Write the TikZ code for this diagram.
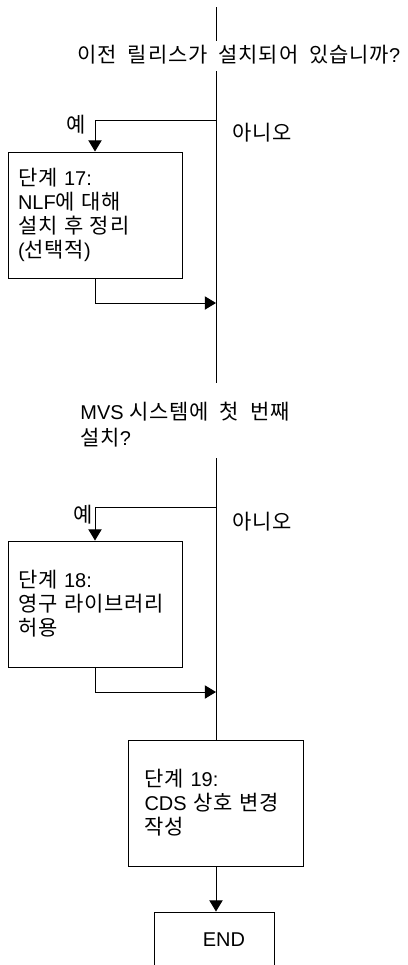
\documentclass[tikz,border=0pt]{standalone}
\usepackage{fontspec}
\setmainfont{Liberation Sans}
\newfontfamily\krfont{Noto Sans CJK KR}[Scale=1.05, LetterSpace=4, WordSpace=2]
\usetikzlibrary{arrows.meta}

\begin{document}
\begin{tikzpicture}[font=\fontsize{14.2}{17}\selectfont, line width=0.7pt,
    >={Triangle[length=8pt,width=9.5pt]},
    stepbox/.style={draw, minimum height=3.15cm, text width=3.85cm, inner xsep=0.25cm, align=left},
    endbox/.style={draw, minimum height=1.4cm, text width=1.55cm, inner xsep=0.725cm, align=right},
    question/.style={anchor=west, align=left, inner sep=0pt}]
          \useasboundingbox (0, 0) rectangle (10.2, -24.125);
          % first question
          \coordinate (top) at (5.4, -0.175);
          \node[question] (q1) at (1.925, -1.375) {{\krfont 이전 릴리스가 설치되어 있습니까}?};
          \coordinate (q1a) at (5.4, -1.025);
          \coordinate (q1b) at (5.4, -1.775);
          \coordinate (j1) at (5.4, -3.02);
          \coordinate (m1) at (5.4, -7.575);
          \node (yes1) at (1.9, -3.125) {\krfont 예};
          \node[anchor=west] (no1) at (5.675, -3.325) {\krfont 아니오};
          \node[stepbox] (s17) at (2.375, -5.375) {{\krfont 단계} 17:\\NLF{\krfont 에 대해}\\{\krfont 설치 후 정리}\\({\krfont 선택적})};
          \draw (top) -- (q1a);
          \draw[->] (j1) -| (s17.north);
          \draw[->] (s17.south) |- (m1);
          % second question
          \coordinate (q2a) at (5.4, -9.575);
          \node[question] (q2) at (2.0, -10.625) {MVS {\krfont 시스템에 첫 번째}\\[1.5pt]{\krfont 설치}?};
          \coordinate (q2b) at (5.4, -11.45);
          \coordinate (j2) at (5.4, -12.675);
          \coordinate (m2) at (5.4, -17.3);
          \node (yes2) at (2.075, -12.875) {\krfont 예};
          \node[anchor=west] (no2) at (5.675, -13.05) {\krfont 아니오};
          \node[stepbox] (s18) at (2.375, -15.1) {{\krfont 단계} 18:\\{\krfont 영구 라이브러리}\\{\krfont 허용}};
          \draw (q1b) -- (q2a);
          \draw[->] (j2) -| (s18.north);
          \draw[->] (s18.south) |- (m2);
          % last steps
          \node[stepbox, text width=3.575cm, inner xsep=0.4cm] (s19) at (5.4, -20.075) {{\krfont 단계} 19:\\CDS {\krfont 상호 변경}\\{\krfont 작성}};
          \node[endbox] (end) at (5.35, -23.5) {END};
          \draw (q2b) -- (s19.north);
          \draw[->] (s19.south) -- (s19.south |- end.north);
        \end{tikzpicture}
\end{document}
